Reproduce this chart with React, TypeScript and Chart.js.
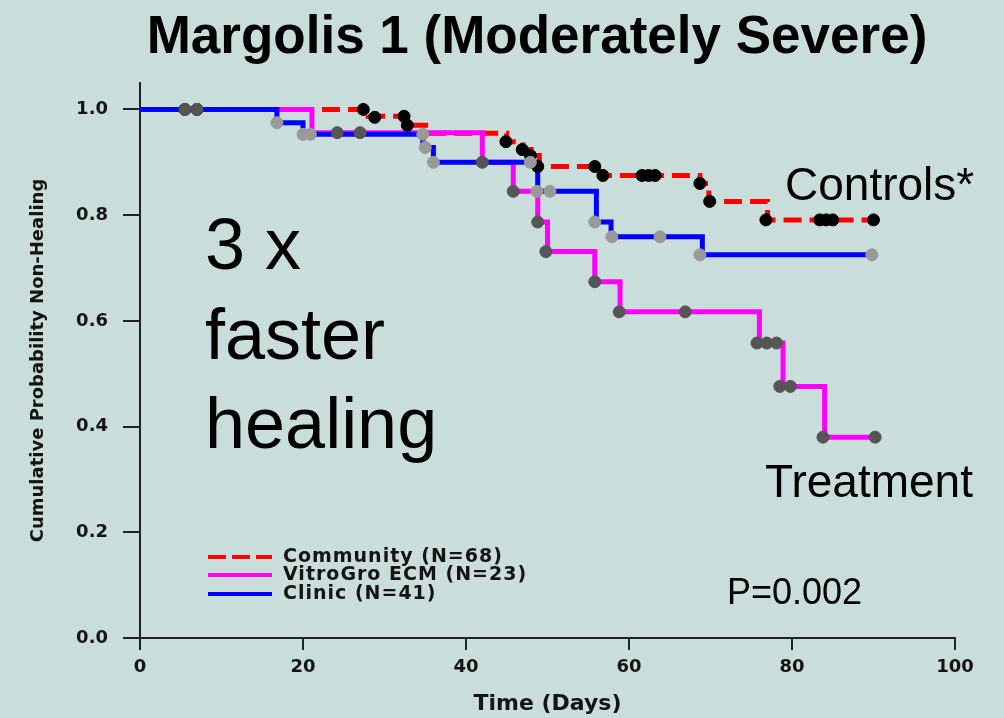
import React, { useEffect, useRef } from 'react';
import { Chart, registerables } from 'chart.js';

Chart.register(...registerables);

// ---- Data ----
const xTicks = [0, 20, 40, 60, 80, 100];
const yTicks = [0, 0.2, 0.4, 0.6, 0.8, 1.0];

const communityLabel = 'Community (N=68)';
const communityTimes = [0, 28, 32.5, 35.5, 45, 47, 48, 49, 56.5, 68.7, 69.8, 77, 90];
const communitySurv = [1.0, 0.987, 0.97, 0.955, 0.939, 0.924, 0.913, 0.892, 0.875, 0.86, 0.826, 0.791, 0.791];
const communityCensorT = [5.5, 7, 27.4, 28.8, 32.4, 32.8, 44.9, 46.9, 47.9, 48.8, 55.8, 56.8, 61.6, 62.4, 63.2, 68.7, 69.9, 76.8, 83.4, 84.2, 85, 90];
const communityCensorS = [1.0, 1.0, 1.0, 0.985, 0.987, 0.97, 0.939, 0.924, 0.913, 0.892, 0.892, 0.875, 0.875, 0.875, 0.875, 0.86, 0.826, 0.791, 0.791, 0.791, 0.791, 0.791];

const vitroLabel = 'VitroGro ECM (N=23)';
const vitroTimes = [0, 21.1, 42, 45.8, 48.8, 50, 55.8, 58.9, 76, 78.9, 84, 90];
const vitroSurv = [1.0, 0.956, 0.9, 0.845, 0.787, 0.731, 0.674, 0.617, 0.558, 0.476, 0.38, 0.38];
const vitroCensorT = [5.5, 7, 24.2, 27, 42, 45.8, 48.8, 49.8, 55.8, 58.8, 66.9, 75.7, 76.9, 78.1, 78.5, 79.8, 83.8, 90.2];
const vitroCensorS = [1.0, 1.0, 0.956, 0.956, 0.9, 0.845, 0.787, 0.731, 0.674, 0.617, 0.617, 0.558, 0.558, 0.558, 0.476, 0.476, 0.38, 0.38];

const clinicLabel = 'Clinic (N=41)';
const clinicTimes = [0, 16.8, 20, 34.7, 36, 48.8, 56, 57.8, 69, 90];
const clinicSurv = [1.0, 0.975, 0.953, 0.928, 0.9, 0.845, 0.787, 0.759, 0.725, 0.725];
const clinicCensorT = [16.8, 20, 20.9, 34.7, 35, 36, 47.9, 48.7, 50.3, 55.8, 57.9, 63.8, 68.7, 89.8];
const clinicCensorS = [0.975, 0.953, 0.953, 0.953, 0.928, 0.9, 0.9, 0.845, 0.845, 0.787, 0.759, 0.759, 0.725, 0.725];

const titleText = 'Margolis 1 (Moderately Severe)';
const xTitle = 'Time (Days)';
const yTitle = 'Cumulative Probability Non-Healing';

const BG = '#C9DDDA';
const TXT = '#141414';
const AX = '#222222';

const toPts = (xs: number[], ys: number[]) => xs.map((x, i) => ({ x, y: ys[i] }));

const bgPlugin = {
  id: 'bg',
  beforeDraw(chart: any) {
    const c = chart.ctx;
    c.save();
    c.fillStyle = BG;
    c.fillRect(0, 0, chart.width, chart.height);
    c.restore();
  },
};

const legendItems = [
  { label: communityLabel, color: '#FF0000', dash: [18, 6] },
  { label: vitroLabel, color: '#FF00FF', dash: [] as number[] },
  { label: clinicLabel, color: '#0000FF', dash: [] as number[] },
];

const textPlugin = {
  id: 'texts',
  afterDraw(chart: any) {
    const c = chart.ctx as CanvasRenderingContext2D;
    c.save();
    c.fillStyle = '#000';
    c.textAlign = 'center';
    c.textBaseline = 'alphabetic';
    c.font = 'bold 53px "Liberation Sans", Arial, sans-serif';
    c.fillText(titleText, 537, 53);

    c.textAlign = 'left';
    c.font = '46px "Liberation Sans", Arial, sans-serif';
    c.fillText('Controls*', 785, 200);
    c.fillText('Treatment', 765, 497);

    c.font = '72px "Liberation Sans", Arial, sans-serif';
    c.fillText('3 x', 205, 269);
    c.fillText('faster', 205, 359);
    c.fillText('healing', 205, 448);

    c.font = '36px "Liberation Sans", Arial, sans-serif';
    c.fillText('P=0.002', 727, 604);

    // legend
    const rows = [557, 575, 594];
    legendItems.forEach((it, i) => {
      const y = rows[i];
      c.beginPath();
      c.strokeStyle = it.color;
      c.lineWidth = 4;
      c.setLineDash(it.dash);
      c.moveTo(208, y);
      c.lineTo(272, y);
      c.stroke();
      c.setLineDash([]);
      c.fillStyle = TXT;
      c.font = 'bold 19px "DejaVu Sans", sans-serif';
      (c as any).letterSpacing = '1px';
      c.textBaseline = 'middle';
      c.fillText(it.label, 283, y);
      (c as any).letterSpacing = '0px';
    });
    c.restore();
  },
};

export default function App() {
  const ref = useRef<HTMLCanvasElement>(null);
  useEffect(() => {
    document.body.style.margin = '0';
    document.body.style.background = BG;
    const canvas = ref.current!;
    const lineDs = (label: string, xs: number[], ys: number[], color: string, order: number, dash: number[]) => ({
      label,
      data: toPts(xs, ys),
      borderColor: color,
      backgroundColor: color,
      borderWidth: 5,
      borderDash: dash,
      stepped: 'before' as const,
      pointRadius: 0,
      pointHitRadius: 0,
      fill: false,
      borderCapStyle: 'butt' as const,
      borderJoinStyle: 'miter' as const,
      order,
    });
    const markDs = (label: string, xs: number[], ys: number[], color: string, order: number) => ({
      label,
      data: toPts(xs, ys),
      showLine: false,
      pointStyle: 'circle' as const,
      pointRadius: 6,
      pointBackgroundColor: color,
      pointBorderColor: color,
      pointBorderWidth: 1,
      borderColor: color,
      backgroundColor: color,
      order,
    });
    const fontAx = { family: '"DejaVu Sans", sans-serif', size: 18, weight: 'bold' as const };
    const chart = new Chart(canvas, {
      type: 'line',
      data: {
        datasets: [
          lineDs(communityLabel, communityTimes, communitySurv, '#FF0000', 10, [18, 8]),
          lineDs(vitroLabel, vitroTimes, vitroSurv, '#FF00FF', 9, []),
          lineDs(clinicLabel, clinicTimes, clinicSurv, '#0000FF', 8, []),
          markDs('Community censored', communityCensorT, communityCensorS, '#000000', 7),
          markDs('VitroGro censored', vitroCensorT, vitroCensorS, '#555555', 6),
          markDs('Clinic censored', clinicCensorT, clinicCensorS, '#999999', 5),
        ] as any,
      },
      options: {
        responsive: false,
        animation: false,
        events: [],
        layout: { padding: { top: 83, right: 49, left: 0, bottom: 0 } },
        plugins: { legend: { display: false }, title: { display: false }, tooltip: { enabled: false } },
        scales: {
          x: {
            type: 'linear',
            min: xTicks[0],
            max: xTicks[xTicks.length - 1],
            afterFit: (s: any) => { s.height = 80; },
            afterBuildTicks: (s: any) => { s.ticks = xTicks.map((v) => ({ value: v })); },
            ticks: { font: fontAx, color: TXT, padding: 7, maxRotation: 0, autoSkip: false },
            grid: { display: true, drawOnChartArea: false, drawTicks: true, tickLength: 12, color: AX, lineWidth: 2 },
            border: { display: true, color: AX, width: 2 },
            title: { display: true, text: xTitle, color: TXT, font: { family: '"DejaVu Sans", sans-serif', size: 22, weight: 'bold' }, padding: { top: 0, bottom: 1 } },
          },
          y: {
            type: 'linear',
            min: 0,
            max: 1.05,
            afterFit: (s: any) => { s.width = 140; },
            afterBuildTicks: (s: any) => { s.ticks = yTicks.map((v) => ({ value: v })); },
            ticks: { font: fontAx, color: TXT, padding: 15, autoSkip: false, callback: (v: any) => Number(v).toFixed(1) },
            grid: { display: true, drawOnChartArea: false, drawTicks: true, tickLength: 17, color: AX, lineWidth: 2 },
            border: { display: true, color: AX, width: 2 },
            title: { display: true, text: yTitle, color: TXT, font: { family: '"DejaVu Sans", sans-serif', size: 18, weight: 'bold' }, padding: { top: 28, bottom: 0 } },
          },
        },
      } as any,
      plugins: [bgPlugin, textPlugin],
    });
    return () => chart.destroy();
  }, []);
  return <canvas ref={ref} width={1004} height={718} style={{ display: 'block' }} />;
}
